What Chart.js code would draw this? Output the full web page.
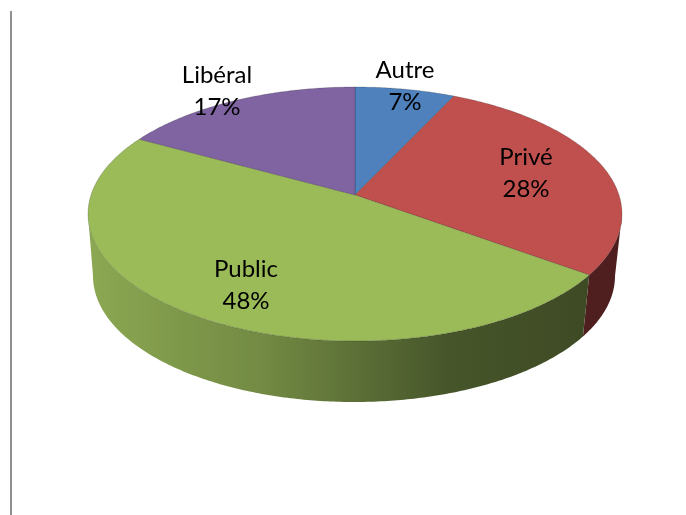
<!DOCTYPE html>
<html lang="fr">
<head>
<meta charset="utf-8">
<title>Secteurs</title>
<script src="https://cdn.jsdelivr.net/npm/chart.js@4/dist/chart.umd.min.js"></script>
<style>
  html, body { margin: 0; background: #fff; overflow: hidden; }
  #regle { position: absolute; left: 10px; top: 11px; width: 2px; height: 504px; background: #8f8f8f; }
  #graphe { display: block; }
</style>
</head>
<body>
<div id="regle"></div>
<canvas id="graphe" width="686" height="515"></canvas>
<script>
var categories = ["Autre", "Privé", "Public", "Libéral"];
var valeurs = [7, 28, 48, 17];
var couleurs = ["#4f81bd", "#c0504d", "#9bbb59", "#8064a2"];

// ou poser les etiquettes, dans l'ordre des categories
var centresEtiquettes = [[405, 70], [526, 157], [246, 269], [217, 75]];

var dessus = { x: 355, y: 214, rx: 267, ry: 127 };
var dessous = { x: 354, y: 276, rx: 261, ry: 126 };
var k = -0.15; // perspective du disque

// passe un angle du disque (0 = en haut) sur l'ellipse
function projeter(e, angle) {
  var u = Math.sin(angle), v = -Math.cos(angle);
  var d = 1 + k * v;
  return {
    x: e.x + e.rx * Math.sqrt(1 - k * k) * u / d,
    y: e.y + e.ry * (v + k) / d
  };
}

function suivreArc(ctx, e, a, b) {
  var n = Math.max(2, Math.ceil(Math.abs(b - a) * 90));
  for (var i = 0; i <= n; i++) {
    var p = projeter(e, a + (b - a) * i / n);
    ctx.lineTo(p.x, p.y);
  }
}

var camembert3d = {
  id: "camembert3d",
  beforeDatasetsDraw: function(chart) {
    var ctx = chart.ctx;
    var arcs = chart.getDatasetMeta(0).data;
    var bordD = Math.acos(k);
    var bordG = 2 * Math.PI - bordD;

    var degrade = ctx.createLinearGradient(88, 0, 590, 0);
    degrade.addColorStop(0, "#8ca852");
    degrade.addColorStop(0.35, "#728a43");
    degrade.addColorStop(0.72, "#46552a");
    degrade.addColorStop(1, "#3e4a24");

    ctx.save();
    // les flancs d'abord
    arcs.forEach(function(arc, i) {
      var a = Math.max(arc.startAngle + Math.PI / 2, bordD);
      var b = Math.min(arc.endAngle + Math.PI / 2, bordG);
      if (b <= a) return;
      ctx.beginPath();
      suivreArc(ctx, dessus, a, b);
      suivreArc(ctx, dessous, b, a);
      ctx.closePath();
      ctx.fillStyle = categories[i] === "Public" ? degrade : "#4f1f1f";
      ctx.fill();
    });

    // puis le dessus
    var cx = dessus.x, cy = dessus.y + dessus.ry * k;
    arcs.forEach(function(arc, i) {
      ctx.beginPath();
      ctx.moveTo(cx, cy);
      suivreArc(ctx, dessus, arc.startAngle + Math.PI / 2, arc.endAngle + Math.PI / 2);
      ctx.closePath();
      ctx.fillStyle = couleurs[i];
      ctx.fill();
      ctx.strokeStyle = "rgba(0,0,0,0.18)";
      ctx.lineWidth = 1;
      ctx.stroke();
    });

    // etiquettes
    ctx.fillStyle = "#000";
    ctx.font = "24px Lato";
    ctx.textAlign = "center";
    ctx.textBaseline = "middle";
    categories.forEach(function(nom, i) {
      var c = centresEtiquettes[i];
      ctx.fillText(nom, c[0], c[1]);
      ctx.fillText(valeurs[i] + "%", c[0], c[1] + 32);
    });
    ctx.restore();
    return false;
  }
};

new Chart(document.getElementById("graphe"), {
  type: "pie",
  data: {
    labels: categories,
    datasets: [{ data: valeurs, backgroundColor: couleurs }]
  },
  options: {
    responsive: false,
    animation: false,
    events: [],
    plugins: { legend: { display: false }, tooltip: { enabled: false } }
  },
  plugins: [camembert3d]
});
</script>
</body>
</html>
